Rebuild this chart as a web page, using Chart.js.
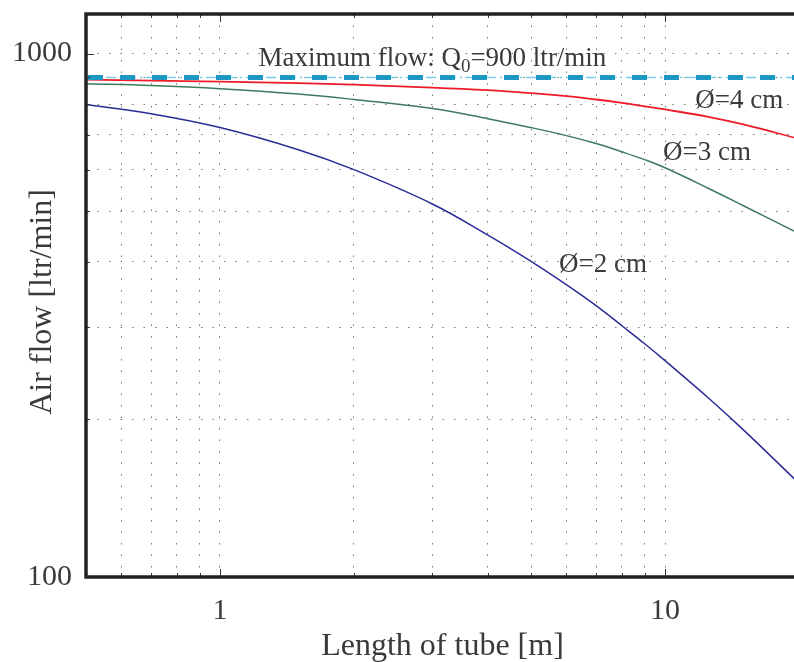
<!DOCTYPE html>
<html>
<head>
<meta charset="utf-8">
<script src="https://cdn.jsdelivr.net/npm/chart.js@4.4.0/dist/chart.umd.min.js"></script>
<style>
  html, body { margin: 0; padding: 0; background: #fff; overflow: hidden; }
  #wrap { width: 794px; height: 662px; overflow: hidden; }
</style>
</head>
<body>
<div id="wrap"><canvas id="flowChart" width="800" height="662"></canvas></div>
<script>
// tube length [m] and air flow [ltr/min]
const lengths = [0.5, 0.7, 1, 1.5, 2, 3, 4, 5, 6, 7, 8, 9, 10, 12.5, 15, 20];
const flow4cm = [892, 888, 884, 878, 872, 861, 851, 840, 829, 817, 805, 793, 782, 757, 732, 687];
const flow3cm = [876, 869, 857, 837, 817, 785, 751, 722, 697, 673, 649, 627, 605, 553, 512, 453];
const flow2cm = [799, 767, 722, 655, 600, 516, 450, 401, 362, 330, 302, 279, 259, 220, 191, 151];
const maxFlow = 900;

const xGridTicks = [0.6, 0.7, 0.8, 0.9, 1, 2, 3, 4, 5, 6, 7, 8, 9, 10];
const xLabelTicks = [1, 10];
const yGridTicks = [100, 200, 300, 400, 500, 600, 700, 800, 900, 1000];
const yLabelTicks = [100, 1000];

const FONT = '"Liberation Serif", "DejaVu Serif", serif';
const TEXT = '#3a3a3a';

function pts(ys) {
    return lengths.map((x, i) => ({ x: x, y: ys[i] }));
}

// labels placed at (length, flow) anchors
const notes = [
    { text: 'Ø=4 cm', x: 11.7, y: 788 },
    { text: 'Ø=3 cm', x: 9.9, y: 627 },
    { text: 'Ø=2 cm', x: 5.78, y: 383 }
];

const decorations = {
    id: 'decorations',
    afterDraw(chart) {
        const ctx = chart.ctx;
        const a = chart.chartArea;
        const xs = chart.scales.x;
        const ys = chart.scales.y;
        ctx.save();

        // small inward ticks
        ctx.strokeStyle = '#333';
        ctx.lineWidth = 1;
        ctx.beginPath();
        xGridTicks.forEach(v => {
            const px = Math.round(xs.getPixelForValue(v)) + 0.5;
            const len = xLabelTicks.includes(v) ? 8 : 4;
            ctx.moveTo(px, a.top); ctx.lineTo(px, a.top + len);
            ctx.moveTo(px, a.bottom); ctx.lineTo(px, a.bottom - len);
        });
        yGridTicks.forEach(v => {
            const py = Math.round(ys.getPixelForValue(v)) + 0.5;
            const len = yLabelTicks.includes(v) ? 8 : 4;
            ctx.moveTo(a.left, py); ctx.lineTo(a.left + len, py);
        });
        ctx.stroke();

        // frame: top, left, bottom
        ctx.strokeStyle = '#222';
        ctx.lineWidth = 3.5;
        ctx.beginPath();
        ctx.moveTo(a.right + 4, a.top);
        ctx.lineTo(a.left, a.top);
        ctx.lineTo(a.left, a.bottom);
        ctx.lineTo(a.right + 4, a.bottom);
        ctx.stroke();

        // axis titles
        ctx.fillStyle = TEXT;
        ctx.font = '32px ' + FONT;
        ctx.textAlign = 'center';
        ctx.textBaseline = 'alphabetic';
        ctx.fillText('Length of tube [m]', (a.left + a.right) / 2, 655);
        ctx.save();
        ctx.translate(51, 302);
        ctx.rotate(-Math.PI / 2);
        ctx.fillText('Air flow [ltr/min]', 0, 0);
        ctx.restore();

        // curve labels
        ctx.textAlign = 'left';
        ctx.font = '27px ' + FONT;
        notes.forEach(n => {
            ctx.fillText(n.text, xs.getPixelForValue(n.x), ys.getPixelForValue(n.y));
        });

        // maximum flow label with subscript
        let px = xs.getPixelForValue(1.22);
        const py = ys.getPixelForValue(948);
        const part1 = 'Maximum flow: Q';
        ctx.fillText(part1, px, py);
        px += ctx.measureText(part1).width;
        ctx.font = '19px ' + FONT;
        ctx.fillText('0', px, py + 6);
        px += ctx.measureText('0').width;
        ctx.font = '27px ' + FONT;
        ctx.fillText('=900 ltr/min', px, py);

        ctx.restore();
    }
};

const ctx = document.getElementById('flowChart').getContext('2d');
new Chart(ctx, {
    type: 'line',
    data: {
        datasets: [
            {
                label: 'Q0',
                data: [{ x: 0.5, y: maxFlow }, { x: 20, y: maxFlow }],
                borderColor: '#1c98c2',
                borderWidth: 5,
                borderDash: [15, 17],
                borderDashOffset: -2
            },
            {
                label: 'Q0 thin',
                data: [{ x: 0.5, y: maxFlow }, { x: 20, y: maxFlow }],
                borderColor: '#79cdea',
                borderWidth: 1.5,
                borderDash: [10, 4, 2, 4]
            },
            {
                label: 'Ø=4 cm',
                data: pts(flow4cm),
                borderColor: '#ee1c2a',
                borderWidth: 1.8,
                tension: 0.4
            },
            {
                label: 'Ø=3 cm',
                data: pts(flow3cm),
                borderColor: '#3e7a5c',
                borderWidth: 1.5,
                tension: 0.4
            },
            {
                label: 'Ø=2 cm',
                data: pts(flow2cm),
                borderColor: '#2a2c96',
                borderWidth: 1.5,
                tension: 0.4
            }
        ]
    },
    options: {
        responsive: false,
        animation: false,
        events: [],
        layout: { padding: { top: 14, right: 1, left: 0, bottom: 0 } },
        elements: { point: { radius: 0 } },
        plugins: { legend: { display: false }, tooltip: { enabled: false } },
        scales: {
            x: {
                type: 'logarithmic',
                min: 0.5,
                max: 20,
                afterBuildTicks: s => { s.ticks = xGridTicks.map(v => ({ value: v })); },
                afterFit: s => { s.height = 85; s.paddingLeft = 0; s.paddingRight = 0; },
                ticks: {
                    autoSkip: false,
                    maxRotation: 0,
                    padding: 16,
                    color: TEXT,
                    font: { family: FONT, size: 30 },
                    callback: v => xLabelTicks.includes(v) ? String(v) : ''
                },
                grid: { color: '#777', lineWidth: 1, drawTicks: false },
                border: { display: false, dash: [1.5, 10] }
            },
            y: {
                type: 'logarithmic',
                min: 100,
                max: 1190,
                afterBuildTicks: s => { s.ticks = yGridTicks.map(v => ({ value: v })); },
                afterFit: s => { s.width = 86; s.paddingTop = 0; s.paddingBottom = 0; },
                ticks: {
                    autoSkip: false,
                    padding: 14,
                    color: TEXT,
                    font: { family: FONT, size: 30 },
                    callback: v => yLabelTicks.includes(v) ? String(v) : ''
                },
                grid: { color: '#777', lineWidth: 1, drawTicks: false },
                border: { display: false, dash: [1.5, 10] }
            }
        }
    },
    plugins: [decorations]
});
</script>
</body>
</html>
